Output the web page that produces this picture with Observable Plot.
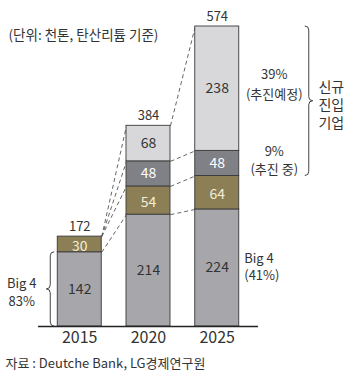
<!DOCTYPE html>
<html>
<head>
<meta charset="utf-8">
<script src="https://cdn.jsdelivr.net/npm/d3@7"></script>
<script src="https://cdn.jsdelivr.net/npm/@observablehq/plot@0.6"></script>
<style>
  html, body { margin: 0; padding: 0; background: #fff; }
</style>
</head>
<body>
<div id="chart"></div>
<script>
// ---- data ----
const years = [2015, 2020, 2025];
const seriesNames = ["Big 4", "추진 중(기타)", "추진 중", "추진예정"];
const big4 = [142, 214, 224];
const others = [30, 54, 64];
const inProgress = [0, 48, 48];
const planned = [0, 68, 238];
const totals = [172, 384, 574];
const titleText = "(단위: 천톤, 탄산리튬 기준)";
const captionText = "자료 : Deutche Bank, LG경제연구원";
const leftNote = "Big 4\n83%";
const rightNotes = ["39%\n(추진예정)", "9%\n(추진 중)", "Big 4\n(41%)"];
const braceNote = "신규\n진입\n기업";

// ---- build table ----
const seriesValues = [big4, others, inProgress, planned];
const table = [];
years.forEach((yr, i) => {
  let acc = 0;
  seriesValues.forEach((vals, s) => {
    const v = vals[i];
    table.push({year: yr, series: seriesNames[s], value: v, y1: acc, y2: acc + v, s});
    acc += v;
  });
});
const connectors = [];
for (let i = 0; i < years.length - 1; i++) {
  seriesNames.forEach((name, s) => {
    const a = table.find(d => d.year === years[i] && d.s === s);
    const b = table.find(d => d.year === years[i + 1] && d.s === s);
    connectors.push({from: years[i], to: years[i + 1], v1: a.y2, v2: b.y2});
  });
}
const segs = table.filter(d => d.value > 0);

const hw = 1.6; // half bar width in year units
const colors = ["#a7a7ab", "#8c7e55", "#7f8186", "#d8d8da"];
const font = "'Noto Sans CJK KR', 'Noto Sans', sans-serif";
const ink = "#333";

function braceMark(yearRef, pxOffset, vTop, vBottom, dir) {
  return (index, scales) => {
    const x0 = scales.x(yearRef) + pxOffset;
    const ya = scales.y(vTop), yb = scales.y(vBottom);
    const ym = (ya + yb) / 2, r = 4;
    const p = `M${x0 - dir * r},${ya} Q${x0},${ya} ${x0},${ya + r} L${x0},${ym - r} Q${x0},${ym} ${x0 + dir * r},${ym} Q${x0},${ym} ${x0},${ym + r} L${x0},${yb - r} Q${x0},${yb} ${x0 - dir * r},${yb}`;
    const g = d3.create("svg:g");
    g.append("path").attr("d", p).attr("fill", "none").attr("stroke", "#444").attr("stroke-width", 1);
    return g.node();
  };
}

const chart = Plot.plot({
  width: 358,
  height: 379,
  marginLeft: 38,
  marginRight: 100,
  marginTop: 26,
  marginBottom: 53,
  style: {fontFamily: font, fontSize: "13px", color: ink, background: "#fff"},
  x: {domain: [2012, 2028], axis: null, label: null},
  y: {domain: [0, 574], axis: null},
  color: {domain: seriesNames, range: colors},
  marks: [
    Plot.link(connectors, {
      x1: d => d.from + hw, y1: "v1", x2: d => d.to - hw, y2: "v2",
      stroke: "#555", strokeWidth: 0.9, strokeDasharray: "4,3"
    }),
    Plot.rect(segs, {
      x1: d => d.year - hw, x2: d => d.year + hw, y1: "y1", y2: "y2",
      fill: "series", stroke: "#3a3a3a", strokeWidth: 0.9
    }),
    Plot.ruleY([0], {stroke: "#222", strokeWidth: 1.5}),
    Plot.axisX({ticks: years, tickSize: 0, tickPadding: 5, fontSize: 16, tickFormat: d => String(d), fill: ink, label: null}),
    Plot.text(segs.filter(d => d.s === 0 || d.s === 3), {
      x: "year", y: d => (d.y1 + d.y2) / 2, text: d => String(d.value), fill: ink, fontSize: 14
    }),
    Plot.text(segs.filter(d => d.s === 1), {
      x: "year", y: d => (d.y1 + d.y2) / 2, dy: 2, text: d => String(d.value), fill: "#f4eed6", fontSize: 14
    }),
    Plot.text(segs.filter(d => d.s === 2), {
      x: "year", y: d => (d.y1 + d.y2) / 2, text: d => String(d.value), fill: "#ffffff", fontSize: 14
    }),
    Plot.text(years, {x: d => d, y: (d, i) => totals[i], text: (d, i) => String(totals[i]), dy: -10, fill: ink, fontSize: 13}),
    // notes
    Plot.text([leftNote], {x: years[0], y: big4[0] / 2, dx: -58, dy: 2, text: d => d, fill: ink, lineHeight: 1.4}),
    Plot.text([rightNotes[0]], {x: years[2], y: (totals[2] + big4[2] + others[2] + inProgress[2]) / 2, dx: 57, dy: -6, text: d => d, fill: ink, lineHeight: 1.5}),
    Plot.text([rightNotes[1]], {x: years[2], y: big4[2] + others[2] + inProgress[2] / 2, dx: 57, dy: -4, text: d => d, fill: ink, lineHeight: 1.4}),
    Plot.text([rightNotes[2]], {x: years[2], y: big4[2] / 2, dx: 27, dy: -2, text: d => d, fill: ink, textAnchor: "start", lineHeight: 1.35}),
    Plot.text([braceNote], {x: years[2], y: (totals[2] + big4[2] + others[2]) / 2, dx: 114, dy: 3, text: d => d, fill: ink, fontSize: 14, lineHeight: 1.3}),
    braceMark(years[0] - hw, -7, big4[0], 0, -1),
    braceMark(years[2] + hw, 70, totals[2], big4[2] + others[2], 1),
    Plot.text([titleText], {frameAnchor: "top-left", dx: -30, dy: 4, text: d => d, fill: ink, fontSize: 13.5}),
    Plot.text([captionText], {frameAnchor: "bottom-left", dx: -33, dy: 37, lineAnchor: "middle", text: d => d, fill: ink, fontSize: 13})
  ]
});
document.getElementById("chart").append(chart);
</script>
</body>
</html>
